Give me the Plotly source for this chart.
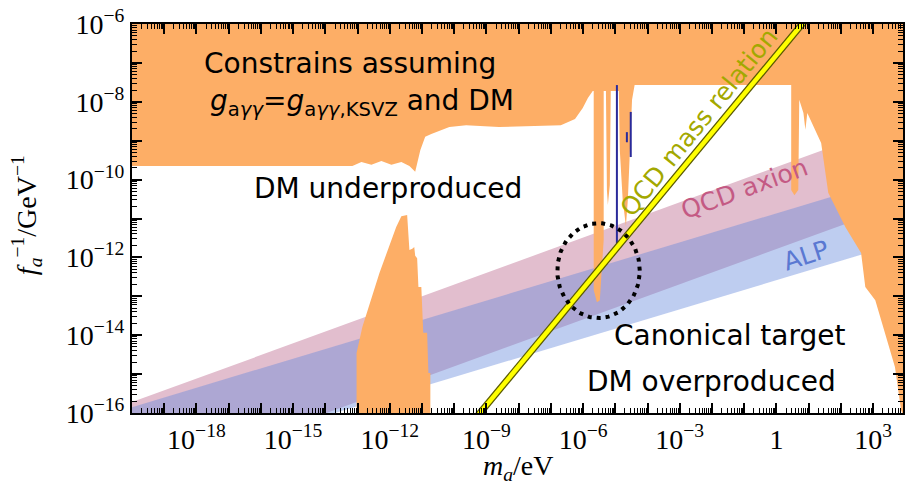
import numpy as np
import plotly.graph_objects as go

# ---------------- data (log10 values) ----------------
x_major_exp = list(range(-20, 5))
x_label_exp = [-18, -15, -12, -9, -6, -3, 0, 3]
y_major_exp = list(range(-16, -5))
y_label_exp = [-16, -14, -12, -10, -8, -6]

band_m_exp = [-20, 4]
qcd_top_exp = [-15.72, -8.47]
qcd_bot_exp = [-17.82, -10.58]
alp_top_exp = [-15.85, -9.87]
alp_bot_exp = [-17.57, -11.59]

qcd_line_m_exp = [-10, 1.5]
qcd_line_f_exp = [-16.8, -5.3]

top_m_exp = [-20, -13.16, -12.88, -12.57, -12.26, -11.95, -11.64, -11.39, -11.21, -11.05, -10.90, -10.71,
             -10.15, -9.63, -8.61, -7.37, -6.69, -6.25, -6.01, -5.85, -5.70,
             -5.67, -5.67, -5.57, -5.48, -5.42, -5.36, -5.36, -5.29, -5.26, -5.23, -5.17, -5.14,
             -4.89, -4.86, -4.77, -4.67, -4.61, -4.54, -4.48, -4.40,
             0.46, 0.46, 0.56, 0.68, 0.71, 0.84, 0.90, 0.96, 1.39, 1.61, 2.14, 2.63, 2.76,
             3.07, 3.25, 3.47, 3.68, 3.87, 4.0, 4.0, -20]
top_f_exp = [-9.65, -9.65, -9.55, -9.62, -9.52, -9.62, -9.55, -9.65, -9.80, -9.24, -8.90, -8.83,
             -8.65, -8.60, -8.65, -8.62, -8.60, -8.44, -8.16, -7.90, -7.72,
             -7.72, -12.84, -13.15, -13.10, -12.32, -11.55, -7.72, -7.72, -10.27, -10.65, -10.14, -7.72,
             -7.72, -9.24, -10.52, -11.19, -10.52, -9.24, -7.95, -7.57,
             -7.57, -10.27, -10.40, -10.27, -7.95, -8.29, -8.72, -8.29, -9.06, -10.34, -11.22, -11.89, -12.76,
             -13.10, -13.61, -14.20, -14.82, -15.92, -16.2, -6, -6]

hill_m_exp = [-13.03, -13.03, -12.85, -12.32, -11.80, -11.64, -11.46, -11.39, -11.30, -11.24, -11.21,
              -11.15, -11.11, -11.02, -10.96, -10.84, -10.80, -10.74, -10.74]
hill_f_exp = [-16.2, -14.46, -13.79, -12.40, -11.22, -10.94, -10.91, -11.81, -11.78, -11.73, -11.96,
              -12.02, -12.76, -12.76, -13.94, -13.94, -14.97, -14.97, -16.2]

haloscope_lines = [
    ([-4.95, -4.95], [-7.57, -11.63]),
    ([-4.64, -4.64], [-8.78, -9.04]),
    ([-4.52, -4.52], [-8.26, -9.42]),
]

circle_center_exp = (-5.52, -12.34)
circle_half_width = (1.28, 1.22)

ORANGE = "#fdae66"


def p10(a):
    return [10.0 ** v for v in a]


def lab(e):
    if e == 0:
        return "1"
    s = str(e).replace("-", "\u2212")
    return "10<sup>" + s + "</sup>"


fig = go.Figure()

# bands
fig.add_trace(go.Scatter(x=p10(band_m_exp + band_m_exp[::-1]), y=p10(qcd_top_exp + qcd_bot_exp[::-1]),
                         fill="toself", fillcolor="rgb(226,190,206)", line=dict(width=0),
                         mode="lines", hoverinfo="skip"))
fig.add_trace(go.Scatter(x=p10(band_m_exp + band_m_exp[::-1]), y=p10(alp_top_exp + alp_bot_exp[::-1]),
                         fill="toself", fillcolor="rgba(100,136,219,0.42)", line=dict(width=0),
                         mode="lines", hoverinfo="skip"))
# constraints
fig.add_trace(go.Scatter(x=p10(top_m_exp), y=p10(top_f_exp), fill="toself", fillcolor=ORANGE,
                         line=dict(width=0), mode="lines", hoverinfo="skip"))
fig.add_trace(go.Scatter(x=p10(hill_m_exp), y=p10(hill_f_exp), fill="toself", fillcolor=ORANGE,
                         line=dict(width=0), mode="lines", hoverinfo="skip"))
for xs, ys in haloscope_lines:
    fig.add_trace(go.Scatter(x=p10(xs), y=p10(ys), mode="lines", line=dict(color="#2a2a9a", width=2),
                             hoverinfo="skip"))
# QCD line
fig.add_trace(go.Scatter(x=p10(qcd_line_m_exp), y=p10(qcd_line_f_exp), mode="lines",
                         line=dict(color="#5a5a00", width=7), hoverinfo="skip"))
fig.add_trace(go.Scatter(x=p10(qcd_line_m_exp), y=p10(qcd_line_f_exp), mode="lines",
                         line=dict(color="#ffff00", width=4.5), hoverinfo="skip"))

# dotted circle (ellipse in log space)
t = np.linspace(0, 2 * np.pi, 200)
cx = circle_center_exp[0] + circle_half_width[0] * np.cos(t)
cy = circle_center_exp[1] + circle_half_width[1] * np.sin(t)
fig.add_trace(go.Scatter(x=10.0 ** cx, y=10.0 ** cy, mode="lines",
                         line=dict(color="black", width=4, dash="4px,5px"), hoverinfo="skip"))

minor_x = [k * 10.0 ** e for e in range(-20, 4) for k in range(2, 10)]
minor_y = [k * 10.0 ** e for e in range(-16, -6) for k in range(2, 10)]

tickfont = dict(family="Liberation Serif", size=28, color="black")
fig.update_xaxes(type="log", range=[-20, 3.93], tickmode="array", tickvals=p10(x_major_exp),
                 ticktext=[lab(e) if e in x_label_exp else "" for e in x_major_exp],
                 ticks="inside", ticklen=10, tickwidth=1.5, tickcolor="black",
                 showline=True, linewidth=2, linecolor="black", mirror="allticks",
                 showgrid=False, zeroline=False, tickfont=tickfont,
                 minor=dict(tickmode="array", tickvals=minor_x, ticks="inside", ticklen=5,
                            tickwidth=1, tickcolor="black", showgrid=False))
fig.update_yaxes(type="log", range=[-16, -6], tickmode="array", tickvals=p10(y_major_exp),
                 ticktext=[lab(e) if e in y_label_exp else "" for e in y_major_exp],
                 ticks="inside", ticklen=10, tickwidth=1.5, tickcolor="black",
                 showline=True, linewidth=2, linecolor="black", mirror="allticks",
                 showgrid=False, zeroline=False, tickfont=tickfont,
                 minor=dict(tickmode="array", tickvals=minor_y, ticks="inside", ticklen=5,
                            tickwidth=1, tickcolor="black", showgrid=False))

sans = "DejaVu Sans"
ann = [
    ("Constrains assuming", 0.2833, 0.8997, 0, "black", 28),
    ("<i>g</i><sub>a<i>\u03b3\u03b3</i></sub>=<i>g</i><sub>a<i>\u03b3\u03b3</i>,KSVZ</sub> and DM", 0.298, 0.797, 0, "black", 28),
    ("DM underproduced", 0.3325, 0.578, 0, "black", 28),
    ("Canonical target", 0.775, 0.2005, 0, "black", 28),
    ("DM overproduced", 0.752, 0.0797, 0, "black", 28),
    ("QCD mass relation", 0.7348, 0.748, -51, "#a3a800", 25),
    ("QCD axion", 0.795, 0.578, -20, "#c45a84", 25),
    ("ALP", 0.874, 0.404, -18, "#5a78d2", 25),
]
for txt, x, y, a, c, s in ann:
    fig.add_annotation(text=txt, x=x, y=y, xref="paper", yref="paper", showarrow=False,
                       textangle=a, font=dict(family=sans, size=s, color=c),
                       xanchor="center", yanchor="middle")

fig.add_annotation(text="<i>f</i><sub><i>a</i></sub><sup>\u22121</sup>/GeV<sup>\u22121</sup>",
                   x=-0.136, y=0.509, xref="paper", yref="paper", showarrow=False, textangle=-90,
                   xanchor="center", yanchor="middle",
                   font=dict(family="Liberation Serif", size=28, color="black"))
fig.add_annotation(text="<i>m</i><sub><i>a</i></sub>/eV", x=0.5006, y=-0.14, xref="paper", yref="paper",
                   showarrow=False, xanchor="center", yanchor="middle",
                   font=dict(family="Liberation Serif", size=28, color="black"))

fig.update_layout(width=906, height=501, margin=dict(l=132, r=1, t=24, b=88),
                  paper_bgcolor="white", plot_bgcolor="white", showlegend=False)

fig.write_html("out.html")
